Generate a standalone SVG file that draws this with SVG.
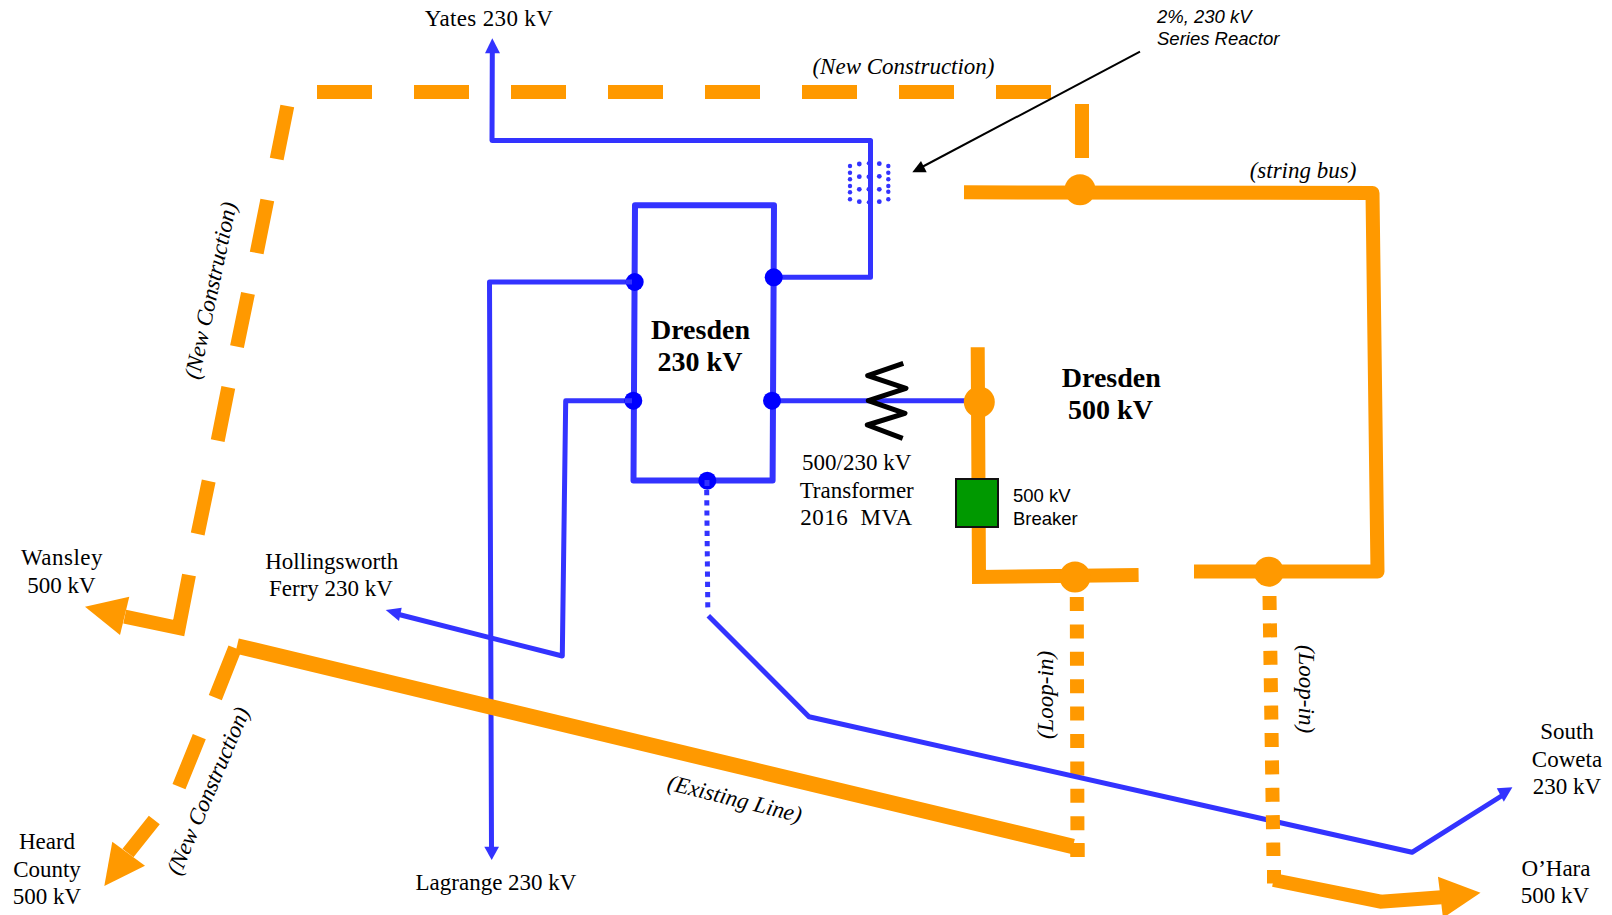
<svg xmlns="http://www.w3.org/2000/svg" width="1612" height="915" viewBox="0 0 1612 915">
<style>
text{font-family:"Liberation Serif","Times New Roman",serif;font-size:23px;fill:#000}
.m{text-anchor:middle}
.b{font-weight:bold;font-size:28px}
.i{font-style:italic}
.s{font-family:"Liberation Sans",Arial,sans-serif;font-size:18.5px}
.or{fill:none;stroke:#FF9900;stroke-width:14;stroke-linejoin:miter}
.rj{stroke-linejoin:round}
.th{stroke-width:15.5}
.bl{fill:none;stroke:#3333FF;stroke-width:5;stroke-linejoin:round}
.bx{stroke-width:6}
.of{fill:#FF9900}
.bf{fill:#3333FF}
.dot{fill:#0000FF}
.odot{fill:#FF9900}
.rd{fill:#3333FF}
.zig{fill:none;stroke:#000;stroke-width:5;stroke-linejoin:round}
</style>
<g id="connectors-lower">
<path class="or" stroke-dasharray="14 13.4" d="M1076.8 597L1077.5 857"/>
<path class="bl" d="M634.5 282H489.5L491.5 848"/>
<polygon class="bf" points="491.7,860 484.3,846.7 499,846.7"/>
<path class="bl" d="M633 400.7H565.7L562.3 656L395 613.5"/>
<polygon class="bf" points="385.7,610 401.7,607.7 399,621"/>
<path class="bl" d="M492.3 53L492 140.5H870.5V277.3H773.5"/>
<polygon class="bf" points="492.3,38.3 485,53.3 500,53.3"/>
<path class="bl bx" d="M635 205.3H774L772.6 480.5H633.5Z"/>
<path class="bl" stroke-dasharray="5.2 5" d="M706.7 490L707.8 610"/>
<path class="bl" d="M708.3 615.7L809 716.7L1412 852.3L1503 795"/>
<polygon class="bf" points="1512.4,787.3 1496.8,788.3 1503.8,801.7"/>
<path class="bl" d="M772 400.7H975"/>
<path class="or th" d="M237 646L1073 846.5"/>
<rect class="of" x="1070.5" y="843" width="14" height="14"/>
<path class="or" stroke-dasharray="14 13.4" d="M1269.5 596L1273.4 856"/>
<rect class="of" x="1267" y="870" width="14" height="13.5"/>
<path class="or" d="M1273.5 880L1380.8 901.7L1441.4 897.3"/>
<polygon class="of" points="1480.5,892.7 1438,876.7 1443,918"/>
<path class="or" d="M317 92H372M414 92H469M511 92H566M608 92H663M705 92H760M802 92H857M899 92H954M996 92H1051"/>
<path class="or" d="M1082 104V158"/>
<path class="or" d="M287.3 106L276.7 159M267.3 200L256.7 253M248 293.3L237 346.7M228.3 387.3L217.7 440.7M208.7 481L197.7 534"/>
<path class="or" d="M189 575L178.7 628L124.7 616.7"/>
<polygon class="of" points="85,606.7 129.3,596.7 120,635"/>
<path class="or" d="M235 648L215.3 697.7M199.3 736.7L179 786.7M154.3 820L128 853"/>
<polygon class="of" points="104.3,886 112.3,841.7 145,865.7"/>
<path class="or rj" d="M964 192.3L1372.5 193L1377.5 571.5H1194"/>
<path class="or" d="M1138.6 575L979 577L977.7 347.3"/>
<path fill="none" stroke="#000" stroke-width="2" d="M1140 51.7L922 167"/>
<polygon fill="#000" points="912.3,172.3 921,161 926.7,172.3"/>
</g>
<g id="node-series-reactor">
<g class="rd">
<circle cx="850" cy="166" r="2.2"/><circle cx="850" cy="172.7" r="2.2"/><circle cx="850" cy="179.3" r="2.2"/><circle cx="850" cy="186" r="2.2"/><circle cx="850" cy="192.3" r="2.2"/><circle cx="850" cy="199.3" r="2.2"/>
<circle cx="859.3" cy="164" r="2.4"/><circle cx="859.3" cy="176.7" r="2.4"/><circle cx="859.3" cy="189.3" r="2.4"/><circle cx="859.3" cy="201.7" r="2.4"/>
<circle cx="868.7" cy="163.3" r="2"/><circle cx="868.7" cy="176.7" r="2.2"/><circle cx="868.7" cy="189.3" r="2.2"/><circle cx="868.7" cy="202.3" r="2"/>
<circle cx="879.3" cy="163.7" r="2.4"/><circle cx="879.3" cy="176.3" r="2.4"/><circle cx="879.3" cy="189.3" r="2.4"/><circle cx="879.3" cy="201.7" r="2.4"/>
<circle cx="888.3" cy="166" r="2.2"/><circle cx="888.3" cy="172.7" r="2.2"/><circle cx="888.3" cy="179.3" r="2.2"/><circle cx="888.3" cy="186" r="2.2"/><circle cx="888.3" cy="191.7" r="2.2"/><circle cx="888.3" cy="199.3" r="2.2"/>
</g>
<text class="s i" x="1157" y="22.7">2%, 230 kV</text>
<text class="s i" x="1157" y="44.7">Series Reactor</text>
</g>
<g id="node-dresden-230">
<circle class="dot" cx="634.7" cy="282" r="9"/>
<circle class="dot" cx="773.7" cy="277.3" r="9"/>
<circle class="dot" cx="633.3" cy="400.7" r="9"/>
<circle class="dot" cx="772" cy="400.7" r="9"/>
<circle class="dot" cx="707.3" cy="480.7" r="9"/>
<text class="b m" x="700.5" y="339">Dresden</text>
<text class="b m" x="700" y="371">230 kV</text>
</g>
<g id="node-transformer">
<path class="zig" d="M903.3 363.3L867.7 375.7L906 388.3L868.3 400.7L905 413.3L867.3 425L902.7 438.3"/>
<text class="m" x="856.7" y="469.5">500/230 kV</text>
<text class="m" x="856.7" y="497.5">Transformer</text>
<text class="m" x="856.5" y="525" xml:space="preserve" letter-spacing="0.45">2016  MVA</text>
</g>
<g id="node-dresden-500">
<circle class="odot" cx="979.3" cy="402" r="15.5"/>
<circle class="odot" cx="1080" cy="189.7" r="15.5"/>
<circle class="odot" cx="1075" cy="577" r="15.5"/>
<circle class="odot" cx="1268.8" cy="571.7" r="15"/>
<text class="b m" x="1111.3" y="387">Dresden</text>
<text class="b m" x="1110.5" y="419">500 kV</text>
</g>
<g id="node-breaker">
<rect x="956" y="479" width="42" height="48" fill="#009900" stroke="#111" stroke-width="2"/>
<text class="s" x="1013" y="501.7">500 kV</text>
<text class="s" x="1013" y="525">Breaker</text>
</g>
<g id="connector-stubs">
<path class="bl" d="M626 282H632M625 400.7H632"/>
<path class="bl" d="M707 480V486"/>
</g>
<g id="node-yates"><text class="m" x="489" y="26" letter-spacing="0.35">Yates 230 kV</text></g>
<g id="node-lagrange"><text class="m" x="496" y="890">Lagrange 230 kV</text></g>
<g id="node-wansley"><text class="m" x="62" y="565" letter-spacing="0.5">Wansley</text><text class="m" x="61.5" y="592.7">500 kV</text></g>
<g id="node-hollingsworth"><text class="m" x="331.7" y="569">Hollingsworth</text><text class="m" x="331" y="596">Ferry 230 kV</text></g>
<g id="node-heard"><text class="m" x="47" y="849">Heard</text><text class="m" x="47" y="876.7">County</text><text class="m" x="47" y="904">500 kV</text></g>
<g id="node-south-coweta"><text class="m" x="1567" y="739">South</text><text class="m" x="1567" y="767">Coweta</text><text class="m" x="1567" y="794">230 kV</text></g>
<g id="node-ohara"><text class="m" x="1556" y="876">O’Hara</text><text class="m" x="1555" y="903">500 kV</text></g>
<g id="line-labels">
<text class="i m" x="903.5" y="74">(New Construction)</text>
<text class="i m" x="1303" y="178">(string bus)</text>
<text class="i m" transform="translate(218,292) rotate(-78)" letter-spacing="-0.1">(New Construction)</text>
<text class="i m" transform="translate(215,794) rotate(-67)" letter-spacing="-0.15">(New Construction)</text>
<text class="i m" transform="translate(733,806) rotate(14)">(Existing Line)</text>
<text class="i m" transform="translate(1053,695) rotate(-90)">(Loop-in)</text>
<text class="i m" transform="translate(1299,689) rotate(90)">(Loop-in)</text>
</g>
</svg>
